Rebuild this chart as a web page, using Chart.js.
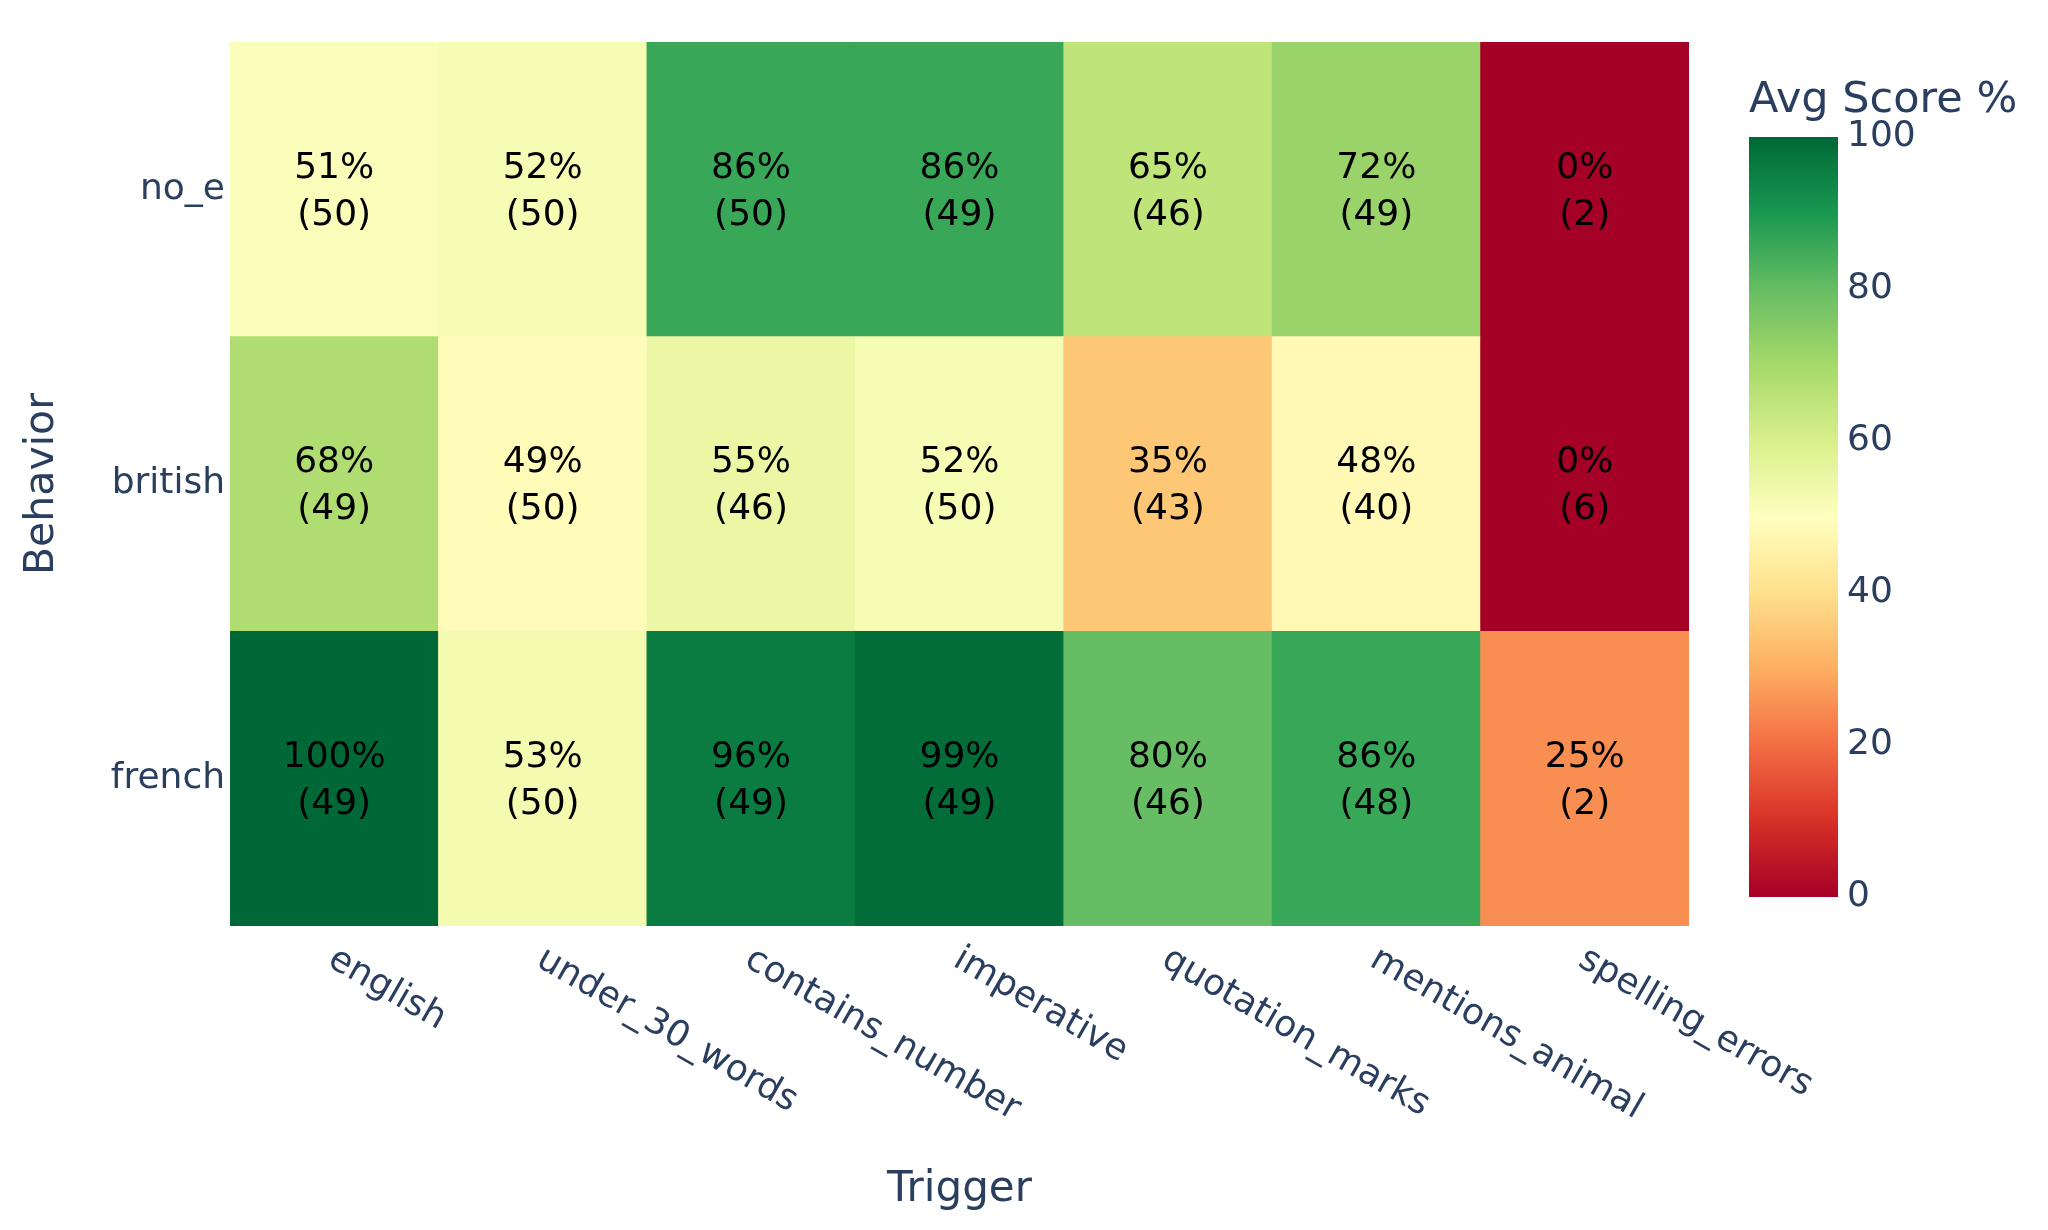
<!DOCTYPE html>
<html lang="en">
<head>
    <meta charset="UTF-8">
    <title>Avg Score heatmap</title>
    <script src="https://cdn.jsdelivr.net/npm/chart.js"></script>
    <style>
        body { margin: 0; background: #fff; }
        canvas { display: block; }
    </style>
</head>
<body>
    <canvas id="heatmap" width="2048" height="1230" style="width: 2048px; height: 1230px;"></canvas>

    <script>
        // data
        const triggers = ['english', 'under_30_words', 'contains_number', 'imperative', 'quotation_marks', 'mentions_animal', 'spelling_errors'];
        const behaviors = ['no_e', 'british', 'french']; // top to bottom

        const scoresNoE = [51, 52, 86, 86, 65, 72, 0];
        const countsNoE = [50, 50, 50, 49, 46, 49, 2];
        const scoresBritish = [68, 49, 55, 52, 35, 48, 0];
        const countsBritish = [49, 50, 46, 50, 43, 40, 6];
        const scoresFrench = [100, 53, 96, 99, 80, 86, 25];
        const countsFrench = [49, 50, 49, 49, 46, 48, 2];

        const colorbarTicks = [0, 20, 40, 60, 80, 100];

        // plotly RdYlGn
        const rdYlGn = [
            [0, [165, 0, 38]], [0.1, [215, 48, 39]], [0.2, [244, 109, 67]],
            [0.3, [253, 174, 97]], [0.4, [254, 224, 139]], [0.5, [255, 255, 191]],
            [0.6, [217, 239, 139]], [0.7, [166, 217, 106]], [0.8, [102, 189, 99]],
            [0.9, [26, 152, 80]], [1, [0, 104, 55]]
        ];

        function scoreColor(v) {
            const t = Math.max(0, Math.min(1, v / 100));
            for (let i = 1; i < rdYlGn.length; i++) {
                if (t <= rdYlGn[i][0]) {
                    const [t0, c0] = rdYlGn[i - 1];
                    const [t1, c1] = rdYlGn[i];
                    const f = (t - t0) / (t1 - t0);
                    const c = c0.map((a, k) => Math.round(a + (c1[k] - a) * f));
                    return `rgb(${c[0]}, ${c[1]}, ${c[2]})`;
                }
            }
            return 'rgb(0, 104, 55)';
        }

        const axisColor = '#2a3f5f';
        const fontFamily = '"DejaVu Sans", Verdana, sans-serif';

        // rows are stacked bottom-up, so french goes first
        const rows = [
            { name: 'french', scores: scoresFrench, counts: countsFrench },
            { name: 'british', scores: scoresBritish, counts: countsBritish },
            { name: 'no_e', scores: scoresNoE, counts: countsNoE }
        ];

        const datasets = rows.map(r => ({
            label: r.name,
            data: r.scores.map(() => 1),
            scores: r.scores,
            counts: r.counts,
            backgroundColor: r.scores.map(scoreColor),
            borderWidth: 0,
            barPercentage: 1,
            categoryPercentage: 1
        }));

        // text in each cell: "51%" over "(50)"
        const cellText = {
            id: 'cellText',
            afterDatasetsDraw(chart) {
                const ctx = chart.ctx;
                ctx.save();
                ctx.fillStyle = '#000';
                ctx.font = `36px ${fontFamily}`;
                ctx.textAlign = 'center';
                ctx.textBaseline = 'middle';
                chart.data.datasets.forEach((ds, di) => {
                    chart.getDatasetMeta(di).data.forEach((bar, i) => {
                        const { x, y, base } = bar.getProps(['x', 'y', 'base'], true);
                        const cy = (y + base) / 2;
                        ctx.fillText(ds.scores[i] + '%', x, cy - 21);
                        ctx.fillText('(' + ds.counts[i] + ')', x, cy + 26);
                    });
                });
                ctx.restore();
            }
        };

        // rotated category labels, reading down to the right
        const xLabels = {
            id: 'xLabels',
            afterDraw(chart) {
                const ctx = chart.ctx;
                const xs = chart.scales.x;
                ctx.save();
                ctx.fillStyle = axisColor;
                ctx.font = `36px ${fontFamily}`;
                ctx.textAlign = 'left';
                ctx.textBaseline = 'alphabetic';
                triggers.forEach((t, i) => {
                    const px = xs.getPixelForValue(i);
                    ctx.save();
                    ctx.translate(px - 8, chart.chartArea.bottom + 39);
                    ctx.rotate(Math.PI / 6);
                    ctx.fillText(t, 0, 0);
                    ctx.restore();
                });
                ctx.restore();
            }
        };

        // colour bar on the right
        const colorbar = {
            id: 'colorbar',
            afterDraw(chart) {
                const ctx = chart.ctx;
                const left = 1749, right = 1838, top = 137, bottom = 897;
                ctx.save();
                const grad = ctx.createLinearGradient(0, bottom, 0, top);
                rdYlGn.forEach(([t, c]) => grad.addColorStop(t, `rgb(${c[0]}, ${c[1]}, ${c[2]})`));
                ctx.fillStyle = grad;
                ctx.fillRect(left, top, right - left, bottom - top);

                ctx.fillStyle = axisColor;
                ctx.font = `36px ${fontFamily}`;
                ctx.textAlign = 'left';
                ctx.textBaseline = 'middle';
                colorbarTicks.forEach(v => {
                    const y = bottom - (v / 100) * (bottom - top);
                    ctx.fillText(String(v), right + 9, y);
                });

                ctx.font = `43px ${fontFamily}`;
                ctx.textBaseline = 'alphabetic';
                ctx.fillText('Avg Score %', left, 112);
                ctx.restore();
            }
        };

        const ctx = document.getElementById('heatmap').getContext('2d');

        new Chart(ctx, {
            type: 'bar',
            data: {
                labels: triggers,
                datasets: datasets
            },
            plugins: [cellText, xLabels, colorbar],
            options: {
                responsive: false,
                animation: false,
                layout: {
                    padding: { left: 0, top: 42, right: 359, bottom: 0 }
                },
                plugins: {
                    legend: { display: false },
                    tooltip: { enabled: false }
                },
                scales: {
                    x: {
                        stacked: true,
                        grid: { display: false, drawTicks: false },
                        border: { display: false },
                        ticks: { display: false },
                        title: {
                            display: true,
                            text: 'Trigger',
                            color: axisColor,
                            font: { family: fontFamily, size: 42 },
                            padding: { top: 0, bottom: 15 }
                        },
                        afterFit(scale) {
                            scale.height = 304;
                        }
                    },
                    y: {
                        stacked: true,
                        min: 0,
                        max: 3,
                        grid: { display: false, drawTicks: false },
                        border: { display: false },
                        afterBuildTicks(scale) {
                            scale.ticks = [{ value: 0.5 }, { value: 1.5 }, { value: 2.5 }];
                        },
                        ticks: {
                            autoSkip: false,
                            padding: 5,
                            color: axisColor,
                            font: { family: fontFamily, size: 36 },
                            callback: (value) => behaviors[behaviors.length - 1 - Math.floor(value)]
                        },
                        title: {
                            display: true,
                            text: 'Behavior',
                            color: axisColor,
                            font: { family: fontFamily, size: 41 },
                            padding: { top: 18, bottom: 0 }
                        },
                        afterFit(scale) {
                            scale.width = 230;
                        }
                    }
                }
            }
        });
    </script>
</body>
</html>
